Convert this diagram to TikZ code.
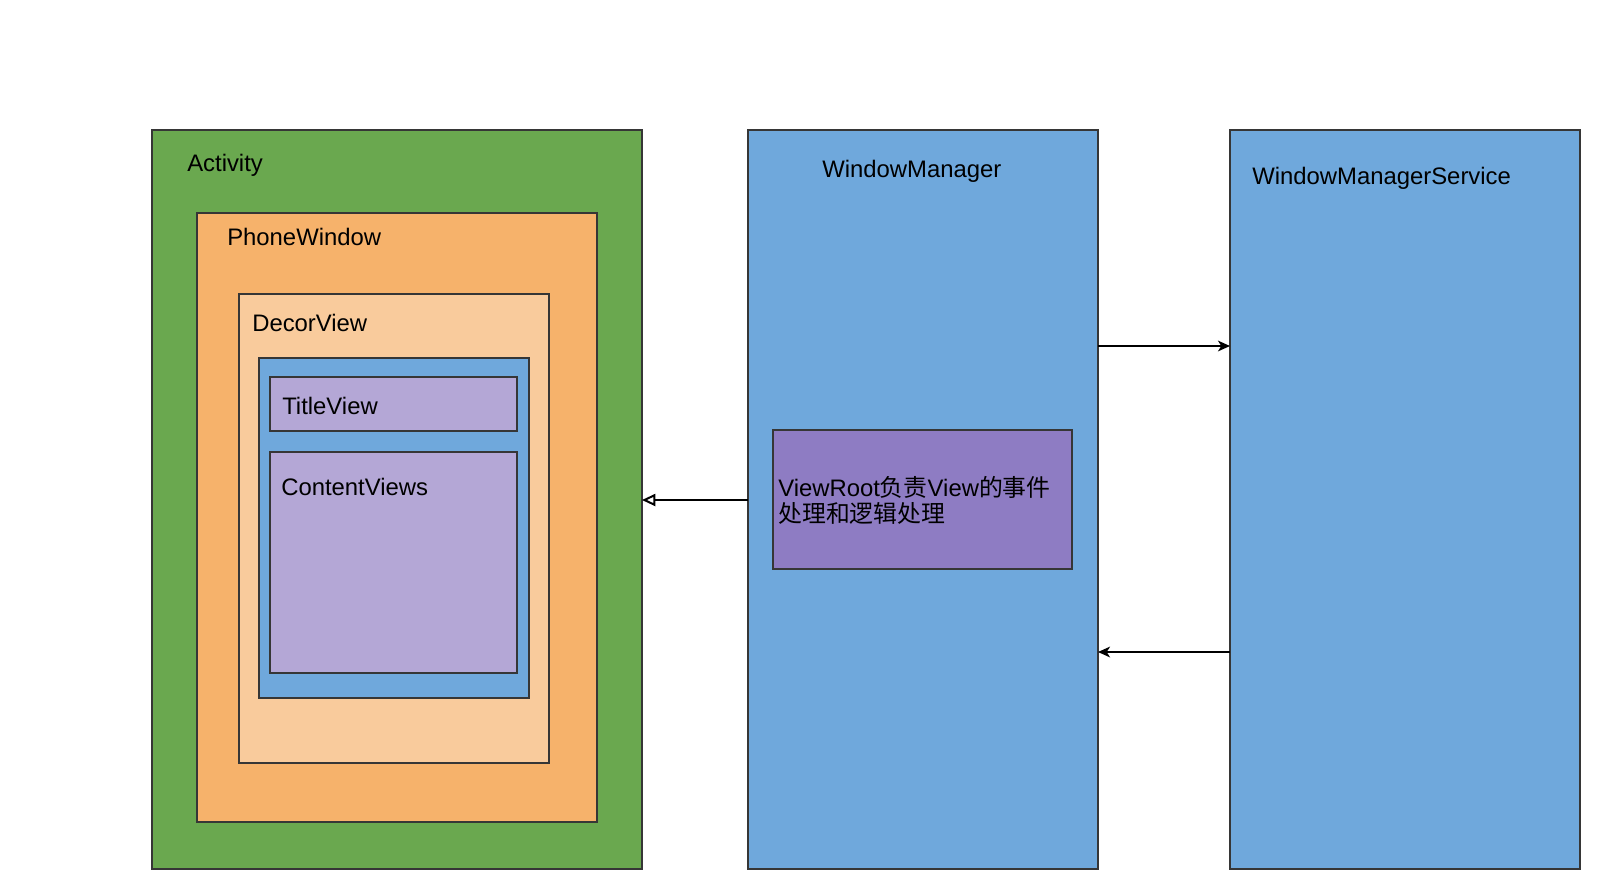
\documentclass[tikz,border=0pt]{standalone}
\usepackage{fontspec}
\setmainfont{Liberation Sans}
\newfontfamily\cjk{Noto Sans CJK SC}
\usetikzlibrary{arrows.meta}
\definecolor{actgreen}{HTML}{6AA84F}
\definecolor{winorange}{HTML}{F6B26B}
\definecolor{decorpeach}{HTML}{F9CB9C}
\definecolor{mgrblue}{HTML}{6FA8DC}
\definecolor{viewlilac}{HTML}{B4A7D6}
\definecolor{rootpurple}{HTML}{8E7CC3}
\definecolor{edgegray}{HTML}{363636}
\tikzset{
  box/.style={draw=edgegray,line width=1.6pt,inner sep=0pt,outer sep=0pt},
  lbl/.style={anchor=west,inner sep=0pt,font=\fontsize{17.9}{20}\selectfont},
  link/.style={line width=1.5pt,black}
}

\begin{document}
\begin{tikzpicture}[x=0.75pt,y=-0.75pt]
\useasboundingbox (0,0) rectangle (1600,890);
% left: activity and its windows
\node[box,fill=actgreen,minimum width=490*0.75pt,minimum height=739*0.75pt] (act) at (397,499.5) {};
\node[box,fill=winorange,minimum width=400*0.75pt,minimum height=609*0.75pt] (phone) at (397,517.5) {};
\node[box,fill=decorpeach,minimum width=310*0.75pt,minimum height=469*0.75pt] (decor) at (394,528.5) {};
\node[box,fill=mgrblue,minimum width=270*0.75pt,minimum height=340*0.75pt] (inner) at (394,528) {};
\node[box,fill=viewlilac,minimum width=247*0.75pt,minimum height=54*0.75pt] (title) at (393.5,404) {};
\node[box,fill=viewlilac,minimum width=247*0.75pt,minimum height=221*0.75pt] (content) at (393.5,562.5) {};
\node[lbl] (actlbl) at (187,165) {Activity};
\node[lbl] (phonelbl) at (227,237) {PhoneWindow};
\node[lbl] (decorlbl) at (252,323) {DecorView};
\node[lbl] (titlelbl) at (282,406) {TitleView};
\node[lbl] (contentlbl) at (281,487) {ContentViews};
% middle and right: managers
\node[box,fill=mgrblue,minimum width=350*0.75pt,minimum height=739*0.75pt] (wm) at (923,499.5) {};
\node[box,fill=mgrblue,minimum width=350*0.75pt,minimum height=739*0.75pt] (wms) at (1405,499.5) {};
\node[box,fill=rootpurple,minimum width=299*0.75pt,minimum height=139*0.75pt] (root) at (922.5,499.5) {};
\node[lbl] (wmlbl) at (822,171) {WindowManager};
\node[lbl] (wmslbl) at (1252,178) {WindowManagerService};
\node[lbl,align=left,font=\fontsize{17.9}{19.5}\selectfont] (rootlbl) at (778,500)
  {ViewRoot{\cjk 负责}View{\cjk 的事件}\\{\cjk 处理和逻辑处理}};
% links
\draw[link,-{Triangle[open,length=10pt,width=9pt]}] (wm.west |- 0,500) -- (act.east |- 0,500);
\draw[link,-{Stealth[length=9pt,width=8pt,inset=2.5pt]}] (wm.east |- 0,346) -- (wms.west |- 0,346);
\draw[link,-{Stealth[length=9pt,width=8pt,inset=2.5pt]}] (wms.west |- 0,652) -- (wm.east |- 0,652);
\end{tikzpicture}
\end{document}
